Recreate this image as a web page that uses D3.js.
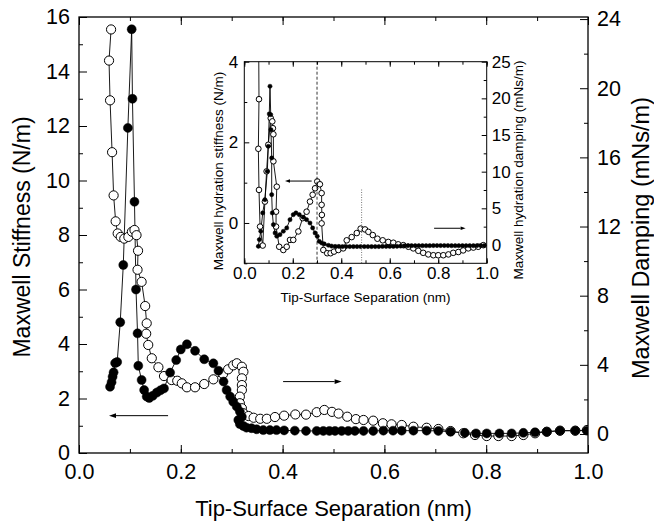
<!DOCTYPE html>
<html>
<head>
<meta charset="utf-8">
<script src="https://cdn.jsdelivr.net/npm/d3@7"></script>
<style>
  body { margin: 0; background: #fff; }
  svg text { font-family: "Liberation Sans", Arial, sans-serif; fill: #000; }
</style>
</head>
<body>
<div id="svg_div"></div>
<script>
// ---- data ----
// main plot: stiffness (filled, left axis) and damping (open, right axis)
var stiffX = [0.061, 0.064, 0.066, 0.068, 0.071, 0.075, 0.081, 0.087, 0.096, 0.1035, 0.105, 0.109, 0.112,
  0.115, 0.1165, 0.123, 0.128, 0.133, 0.138, 0.145, 0.153, 0.160, 0.167, 0.179, 0.191, 0.200, 0.212,
  0.228, 0.246, 0.264, 0.274, 0.284, 0.290, 0.297, 0.303, 0.310, 0.316, 0.320, 0.313, 0.316, 0.323,
  0.329, 0.339, 0.349, 0.362, 0.375, 0.388, 0.403, 0.424, 0.446, 0.467, 0.480, 0.492, 0.503, 0.516,
  0.529, 0.542, 0.559, 0.578, 0.598, 0.617, 0.634, 0.657, 0.683, 0.706, 0.730, 0.758, 0.780, 0.801,
  0.826, 0.850, 0.873, 0.896, 0.919, 0.945, 0.975, 0.998];
var stiffY = [2.43, 2.6, 2.8, 2.96, 3.3, 3.34, 4.8, 6.9, 11.93, 15.55, 13.0, 9.22, 6.0,
  4.39, 3.2, 2.68, 2.31, 2.07, 2.02, 2.1, 2.22, 2.3, 2.37, 2.95, 3.41, 3.8, 3.99,
  3.75, 3.44, 3.29, 3.02, 2.62, 2.31, 2.07, 1.88, 1.7, 1.52, 1.33, 1.21, 1.06, 0.99,
  0.93, 0.91, 0.87, 0.84, 0.84, 0.84, 0.83, 0.82, 0.81, 0.81, 0.81, 0.81, 0.81, 0.81,
  0.81, 0.81, 0.81, 0.81, 0.82, 0.82, 0.82, 0.82, 0.82, 0.81, 0.78, 0.74, 0.72, 0.72,
  0.72, 0.72, 0.74, 0.76, 0.78, 0.82, 0.82, 0.82];

var dampX = [0.063, 0.059, 0.061, 0.065, 0.068, 0.072, 0.076, 0.082, 0.089, 0.097, 0.104, 0.109, 0.113,
  0.116, 0.115, 0.123, 0.130, 0.133, 0.132, 0.136, 0.143, 0.156, 0.167, 0.182, 0.193, 0.202, 0.212,
  0.228, 0.246, 0.264, 0.283, 0.293, 0.303, 0.310, 0.320, 0.323, 0.320, 0.320, 0.320, 0.316, 0.316,
  0.320, 0.323, 0.333, 0.343, 0.356, 0.369, 0.385, 0.403, 0.425, 0.446, 0.467, 0.482, 0.497, 0.510,
  0.527, 0.544, 0.559, 0.578, 0.597, 0.614, 0.634, 0.657, 0.683, 0.706, 0.730, 0.755, 0.778, 0.801,
  0.824, 0.850, 0.873, 0.896, 0.919, 0.945, 0.975, 0.998];
var dampY = [23.4, 21.6, 19.3, 16.3, 13.8, 12.3, 11.6, 11.4, 11.3, 11.4, 11.7, 11.8, 11.5,
  10.6, 9.5, 8.8, 7.4, 6.4, 5.8, 5.15, 4.38, 3.86, 3.35, 3.12, 3.08, 2.93, 2.7,
  2.7, 2.89, 3.16, 3.47, 3.74, 3.97, 4.09, 3.89, 3.6, 3.22, 2.83, 2.54, 2.16, 1.78,
  1.49, 1.2, 1.04, 0.94, 0.88, 0.88, 0.98, 1.06, 1.13, 1.12, 1.26, 1.39, 1.28, 1.18,
  1.0, 0.86, 0.81, 0.77, 0.62, 0.56, 0.52, 0.42, 0.36, 0.29, 0.17, 0.04, -0.06, -0.12,
  -0.12, -0.12, -0.06, 0.04, 0.13, 0.19, 0.19, 0.23];

// inset: hydration stiffness (open, left axis) and hydration damping (filled, right axis)
var hStiffX = [0.059, 0.0606, 0.058, 0.0606, 0.065, 0.076, 0.085, 0.092, 0.099, 0.109, 0.1155, 0.118,
  0.12, 0.12, 0.134, 0.131, 0.131, 0.144, 0.161, 0.175, 0.1885, 0.202, 0.223, 0.241, 0.257, 0.271,
  0.282, 0.292, 0.301, 0.312, 0.319, 0.319, 0.320, 0.319, 0.326, 0.342, 0.356, 0.37, 0.388, 0.408,
  0.4225, 0.443, 0.464, 0.48, 0.498, 0.512, 0.53, 0.549, 0.571, 0.594, 0.615, 0.635, 0.656, 0.677,
  0.697, 0.718, 0.738, 0.759, 0.78, 0.80, 0.821, 0.842, 0.862, 0.883, 0.903, 0.924, 0.945, 0.965, 0.986];
var hStiffY = [4.8, 3.07, 1.84, 0.82, -0.09, -0.56, 0.53, 1.28, 1.94, 2.6, 2.52, 2.35,
  2.2, 1.53, 0.9, 0.28, -0.09, -0.59, -0.67, -0.59, -0.42, -0.42, -0.21, 0.12, 0.28, 0.53,
  0.70, 0.86, 1.03, 0.96, 0.74, 0.45, 0.2, -0.01, -0.67, -0.75, -0.75, -0.71, -0.67, -0.63,
  -0.43, -0.35, -0.25, -0.14, -0.16, -0.22, -0.30, -0.39, -0.43, -0.47, -0.49, -0.53, -0.55, -0.59,
  -0.63, -0.69, -0.74, -0.78, -0.80, -0.80, -0.80, -0.78, -0.74, -0.72, -0.68, -0.63, -0.61, -0.59, -0.55];

var hDampX = [0.058, 0.062, 0.068, 0.076, 0.085, 0.095, 0.099, 0.103, 0.106, 0.109, 0.110, 0.113,
  0.113, 0.1155, 0.12, 0.127, 0.134, 0.147, 0.161, 0.175, 0.1885, 0.202, 0.213, 0.227, 0.243, 0.257,
  0.271, 0.282, 0.292, 0.301, 0.309, 0.319, 0.33, 0.347, 0.36, 0.375, 0.39, 0.405, 0.42, 0.435,
  0.45, 0.465, 0.48, 0.495, 0.51, 0.525, 0.54, 0.555, 0.57, 0.585, 0.6, 0.615, 0.63, 0.645,
  0.66, 0.675, 0.69, 0.705, 0.72, 0.735, 0.75, 0.765, 0.78, 0.795, 0.81, 0.825, 0.84, 0.855,
  0.87, 0.885, 0.9, 0.915, 0.93, 0.945, 0.96, 0.975, 0.99];
var hDampY = [-0.18, 0.73, 1.87, 4.37, 6.18, 10.05, 13.46, 17.87, 21.65, 17.78, 15.73, 11.87,
  6.86, 4.37, 2.77, 1.64, 1.19, 1.41, 1.87, 2.32, 3.45, 4.13, 4.37, 4.13, 3.78, 3.45,
  3.0, 2.32, 1.64, 1.19, 0.5, 0.27, 0.14, -0.04, -0.15, -0.2, -0.2, -0.22, -0.22, -0.22,
  -0.22, -0.22, -0.22, -0.22, -0.22, -0.22, -0.22, -0.22, -0.2, -0.2, -0.2, -0.2, -0.18, -0.15,
  -0.12, -0.1, -0.1, -0.1, -0.1, -0.1, -0.1, -0.1, -0.08, -0.08, -0.08, -0.08, -0.08, -0.1,
  -0.1, -0.1, -0.1, -0.1, -0.1, -0.1, -0.08, -0.08, -0.08];

// tick labels
var xTicks = [0.0, 0.2, 0.4, 0.6, 0.8, 1.0];
var mainLeftTicks = [0, 2, 4, 6, 8, 10, 12, 14, 16];
var mainRightTicks = [0, 4, 8, 12, 16, 20, 24];
var insetLeftTicks = [0, 2, 4];
var insetRightTicks = [0, 5, 10, 15, 20, 25];

// ---- dimensions ----
var W = 654, H = 522;
var main = {left: 79, top: 17, width: 509, height: 436};
var inset = {left: 244.3, top: 61.7, width: 242.4, height: 201.6};
var font = '"Liberation Sans", Arial, sans-serif';

var svg = d3.select("#svg_div")
  .append("svg")
  .attr("width", W)
  .attr("height", H);

// draws a framed panel with inward ticks on all sides, returns the scales
function addPanel(box, opt) {
  var g = svg.append("g")
    .attr("transform", `translate(${box.left}, ${box.top})`);

  var x = d3.scaleLinear().domain([0, 1]).range([0, box.width]);
  var yL = d3.scaleLinear().domain(opt.leftDomain).range([box.height, 0]);
  var yR = d3.scaleLinear().domain(opt.rightDomain).range([box.height, 0]);

  var fmtX = d3.format(".1f");

  // minor ticks first (no labels)
  g.append("g").attr("transform", `translate(0, ${box.height})`)
    .call(d3.axisBottom(x).tickValues(d3.range(0, 1.001, 0.1)).tickSize(-opt.minor).tickFormat(""));
  g.append("g")
    .call(d3.axisTop(x).tickValues(d3.range(0, 1.001, 0.1)).tickSize(-opt.minor).tickFormat(""));
  g.append("g")
    .call(d3.axisLeft(yL).tickValues(opt.leftMinor).tickSize(-opt.minor).tickFormat(""));
  g.append("g").attr("transform", `translate(${box.width}, 0)`)
    .call(d3.axisRight(yR).tickValues(opt.rightMinor).tickSize(-opt.minor).tickFormat(""));

  // major ticks with labels
  g.append("g").attr("class", "ax").attr("transform", `translate(0, ${box.height})`)
    .call(d3.axisBottom(x).tickValues(xTicks).tickSize(-opt.major).tickPadding(opt.padX).tickFormat(fmtX));
  g.append("g")
    .call(d3.axisTop(x).tickValues(xTicks).tickSize(-opt.major).tickFormat(""));
  g.append("g").attr("class", "ax")
    .call(d3.axisLeft(yL).tickValues(opt.leftTicks).tickSize(-opt.major).tickPadding(opt.padL).tickFormat(d3.format("d")));
  g.append("g").attr("class", "ax").attr("transform", `translate(${box.width}, 0)`)
    .call(d3.axisRight(yR).tickValues(opt.rightTicks).tickSize(-opt.major).tickPadding(opt.padR).tickFormat(d3.format("d")));

  g.selectAll(".domain").remove();
  g.selectAll(".tick line").attr("stroke", "#000").attr("stroke-width", 1);
  g.selectAll(".ax text")
    .attr("font-family", font)
    .attr("font-size", opt.tickFont + "px")
    .attr("fill", "#000");

  // frame
  g.append("rect")
    .attr("width", box.width).attr("height", box.height)
    .attr("fill", "none").attr("stroke", "#000").attr("stroke-width", opt.frame);

  // clip for the data
  var clipId = opt.id + "_clip";
  g.append("clipPath").attr("id", clipId)
    .append("rect").attr("width", box.width).attr("height", box.height);

  var data = g.append("g").attr("clip-path", `url(#${clipId})`);

  return {g: g, data: data, x: x, yL: yL, yR: yR};
}

// a connected line through the points of one series
function addSeries(panel, xs, ys, y) {
  var pts = xs.map(function(d, i) { return [d, ys[i]]; });
  var line = d3.line()
    .x(function(d) { return panel.x(d[0]); })
    .y(function(d) { return y(d[1]); });

  panel.data.append("path")
    .attr("d", line(pts))
    .attr("fill", "none")
    .attr("stroke", "#000")
    .attr("stroke-width", 0.9);

  return pts;
}

function addMarkers(panel, pts, y, filled, r) {
  panel.data.append("g")
    .selectAll("circle")
    .data(pts)
    .join("circle")
    .attr("cx", function(d) { return panel.x(d[0]); })
    .attr("cy", function(d) { return y(d[1]); })
    .attr("r", r)
    .attr("fill", filled ? "#000" : "#fff")
    .attr("stroke", "#000")
    .attr("stroke-width", filled ? 0.5 : 1);
}

// horizontal arrow from x0 to x1 at level v (in the given y scale)
function addArrow(panel, x0, x1, v, y, head) {
  var px0 = panel.x(x0), px1 = panel.x(x1), py = y(v);
  var dir = px1 > px0 ? 1 : -1;
  panel.g.append("line")
    .attr("x1", px0).attr("y1", py)
    .attr("x2", px1 - dir * head).attr("y2", py)
    .attr("stroke", "#000").attr("stroke-width", 1);
  panel.g.append("path")
    .attr("d", `M${px1},${py} L${px1 - dir * head},${py - head * 0.35} L${px1 - dir * head},${py + head * 0.35} Z`)
    .attr("fill", "#000");
}

// ---- main panel ----
var mainP = addPanel(main, {
  id: "main",
  leftDomain: [0, 16], rightDomain: [-1.1, 24.12],
  leftTicks: mainLeftTicks, rightTicks: mainRightTicks,
  leftMinor: d3.range(1, 16, 2), rightMinor: d3.range(2, 24, 4),
  major: 8, minor: 4, padX: 11, padL: 9, padR: 9, tickFont: 21.5, frame: 1.3
});

var dampPts = addSeries(mainP, dampX, dampY, mainP.yR);
var stiffPts = addSeries(mainP, stiffX, stiffY, mainP.yL);
addMarkers(mainP, dampPts, mainP.yR, false, 4.6);
addMarkers(mainP, stiffPts, mainP.yL, true, 4.5);

addArrow(mainP, 0.175, 0.059, 1.37, mainP.yL, 7);
addArrow(mainP, 0.401, 0.516, 2.62, mainP.yL, 7);

// ---- inset panel ----
var insP = addPanel(inset, {
  id: "inset",
  leftDomain: [-1, 4], rightDomain: [-2.5, 25],
  leftTicks: insetLeftTicks, rightTicks: insetRightTicks,
  leftMinor: [-1, 1, 3], rightMinor: d3.range(2.5, 25, 5),
  major: 5, minor: 3, padX: 4, padL: 6, padR: 5, tickFont: 17, frame: 1
});

// reference lines at 0.3 and 0.48 nm
insP.g.append("line")
  .attr("x1", insP.x(0.3)).attr("x2", insP.x(0.3))
  .attr("y1", 0).attr("y2", inset.height)
  .attr("stroke", "#000").attr("stroke-width", 0.8).attr("stroke-dasharray", "3,2");
insP.g.append("line")
  .attr("x1", insP.x(0.484)).attr("x2", insP.x(0.484))
  .attr("y1", insP.yL(0.83)).attr("y2", inset.height)
  .attr("stroke", "#555").attr("stroke-width", 0.8).attr("stroke-dasharray", "1,1.5");

var hStiffPts = addSeries(insP, hStiffX, hStiffY, insP.yL);
var hDampPts = addSeries(insP, hDampX, hDampY, insP.yR);
addMarkers(insP, hStiffPts, insP.yL, false, 2.8);
addMarkers(insP, hDampPts, insP.yR, true, 2.1);

addArrow(insP, 0.278, 0.168, 1.04, insP.yL, 5);
addArrow(insP, 0.783, 0.913, 2.28, insP.yR, 5);

// ---- axis titles ----
function addTitle(x, y, size, txt, rotate) {
  svg.append("text")
    .attr("transform", `translate(${x}, ${y})` + (rotate ? " rotate(-90)" : ""))
    .attr("text-anchor", "middle")
    .attr("font-family", font)
    .attr("font-size", size + "px")
    .text(txt);
}

addTitle(333.5, 516, 22, "Tip-Surface Separation (nm)", false);
addTitle(30, 237, 23, "Maxwell Stiffness (N/m)", true);
addTitle(649, 238, 23.5, "Maxwell Damping (mNs/m)", true);

addTitle(365.5, 302, 13.5, "Tip-Surface Separation (nm)", false);
addTitle(223, 171, 13.5, "Maxwell hydration stiffness (N/m)", true);
addTitle(523, 170, 13.5, "Maxwell hydration damping (mNs/m)", true);
</script>
</body>
</html>
